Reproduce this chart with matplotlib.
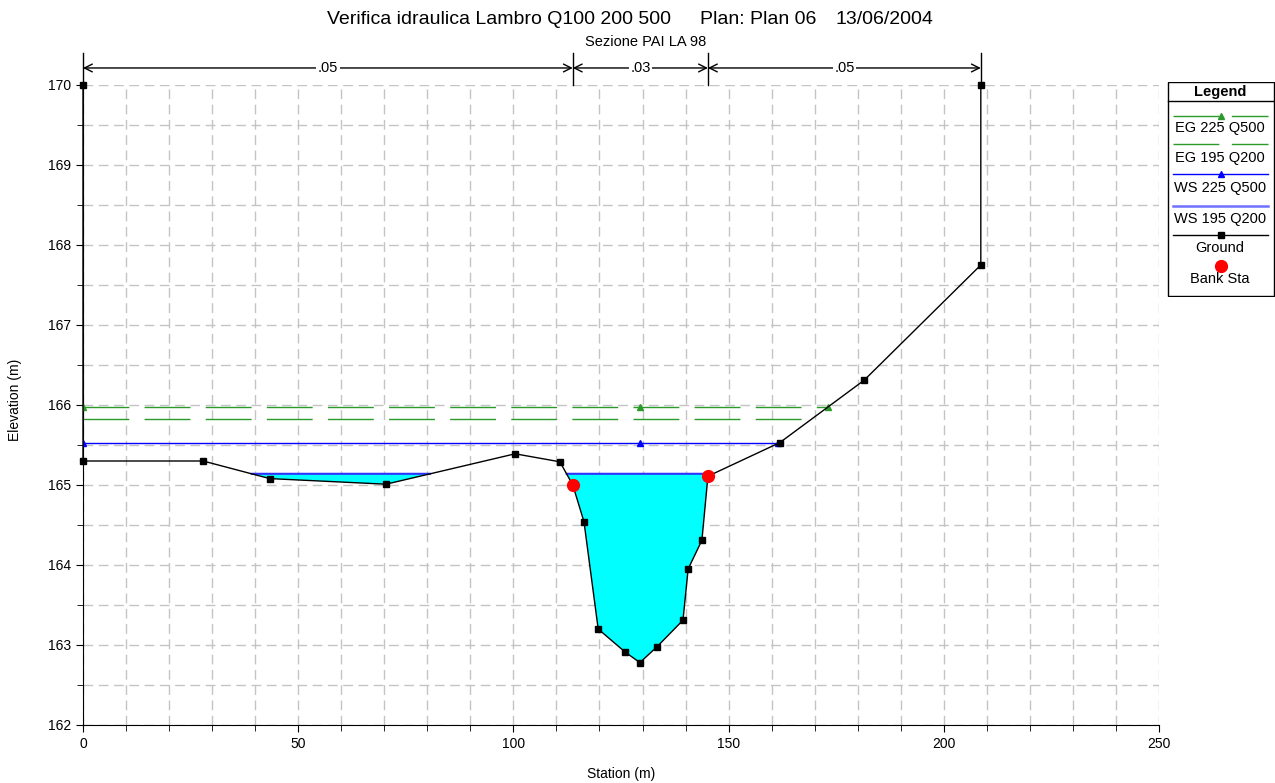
import numpy as np
import matplotlib.pyplot as plt
from matplotlib.ticker import MultipleLocator
from matplotlib.patches import Rectangle

plt.rcParams['font.family'] = ['Liberation Sans', 'DejaVu Sans']

# Cross section geometry (station, elevation)
ground_sta = [0, 0, 27.9, 43.4, 70.4, 100.4, 110.8, 113.8, 116.4, 119.7, 126.0,
              129.4, 133.4, 139.4, 140.6, 143.8, 145.2, 161.9, 181.5, 208.6, 208.6]
ground_elev = [170.0, 165.30, 165.30, 165.08, 165.01, 165.39, 165.29, 165.00, 164.54,
               163.20, 162.91, 162.78, 162.98, 163.31, 163.95, 164.31, 165.11, 165.53,
               166.31, 167.75, 170.0]

bank_sta = [113.8, 145.2]
bank_elev = [165.00, 165.11]

# Manning's n zones
n_bounds = [0, 113.8, 145.2, 208.6]
n_values = ['.05', '.03', '.05']

# Water profiles
eg_q500 = 165.98
eg_q200 = 165.82
ws_q500 = 165.52
ws_q200 = 165.14
thalweg_sta = 129.4

title_parts = ['Verifica idraulica Lambro Q100 200 500', 'Plan: Plan 06', '13/06/2004']

sta = np.array(ground_sta)
elev = np.array(ground_elev)

# dense ground profile (interior points, without the vertical end walls)
xd = np.linspace(sta[1], sta[-2], 6000)
gd = np.interp(xd, sta[1:-1], elev[1:-1])

fig = plt.figure(figsize=(12.75, 7.83), dpi=100)
ax = fig.add_axes([83 / 1275, 1 - 725 / 783, 1076 / 1275, 640 / 783])

ax.set_xlim(0, 250)
ax.set_ylim(162, 170)
ax.xaxis.set_major_locator(MultipleLocator(50))
ax.xaxis.set_minor_locator(MultipleLocator(10))
ax.yaxis.set_major_locator(MultipleLocator(1))
ax.yaxis.set_minor_locator(MultipleLocator(0.5))
ax.grid(which='both', color='#c4c4c4', linestyle=(0, (7, 4)), linewidth=1, zorder=0)
ax.set_axisbelow(True)
for s in ['top', 'right']:
    ax.spines[s].set_visible(False)
ax.tick_params(which='major', direction='out', length=5, labelsize=10)
ax.tick_params(which='minor', direction='out', length=4)

# wetted area of the lower profile
wet = gd < ws_q200
ax.fill_between(xd, gd, ws_q200, where=wet, color='#00ffff', linewidth=0, zorder=2)
ax.plot(xd, np.where(wet, ws_q200, np.nan), color='#3030ff', linewidth=1.5, zorder=3)


def right_edge(level):
    return xd[gd < level].max()


# energy grade lines
green = '#2a9a2a'
x_end = right_edge(eg_q500)
ax.plot([0, x_end], [eg_q500, eg_q500], color=green, linewidth=1,
        linestyle=(0, (33, 11)), zorder=3)
ax.plot([0, thalweg_sta, x_end], [eg_q500] * 3, linestyle='none', marker='^',
        markersize=4.5, color=green, zorder=4)
x_end = right_edge(eg_q200)
ax.plot([0, x_end], [eg_q200, eg_q200], color=green, linewidth=1,
        linestyle=(0, (33, 11)), zorder=3)

# upper water surface
x_end = right_edge(ws_q500)
ax.plot([0, x_end], [ws_q500, ws_q500], color='#0000ff', linewidth=1, zorder=3)
ax.plot([0, thalweg_sta, x_end], [ws_q500] * 3, linestyle='none', marker='^',
        markersize=4.5, color='#0000ff', zorder=4)

# ground and bank stations
ax.plot(sta, elev, color='black', linewidth=1, marker='s', markersize=4.5, zorder=5,
        clip_on=False)
ax.plot(bank_sta, bank_elev, linestyle='none', marker='o', markersize=8.5,
        color='#ff0000', zorder=6)

# Manning's n zones above the plot
tr = ax.get_xaxis_transform()
for b in n_bounds:
    ax.plot([b, b], [1.0, 1.05], color='black', linewidth=1, transform=tr, clip_on=False)
for i, n in enumerate(n_values):
    ax.annotate('', xy=(n_bounds[i + 1], 1.0266), xytext=(n_bounds[i], 1.0266),
                xycoords=tr, textcoords=tr,
                arrowprops=dict(arrowstyle='<->', lw=1, shrinkA=0, shrinkB=0,
                                mutation_scale=14))
    ax.text((n_bounds[i] + n_bounds[i + 1]) / 2, 1.0266, n, transform=tr,
            ha='center', va='center', fontsize=10.5,
            bbox=dict(facecolor='white', edgecolor='none', pad=1))

fig.text(621 / 1275, 1 - 774 / 783, 'Station (m)', ha='center', va='center', fontsize=10)
fig.text(15 / 1275, 1 - 400 / 783, 'Elevation (m)', ha='center', va='center',
         rotation=90, fontsize=10)

# title line, three fields
for part, xc in zip(title_parts, [499, 758, 884.5]):
    fig.text(xc / 1275, 1 - 19 / 783, part, ha='center', va='center', fontsize=14)
fig.text(646 / 1275, 1 - 42 / 783, 'Sezione PAI LA 98', ha='center', va='center',
         fontsize=10.5)

# legend panel (pixel coordinates)
lg = fig.add_axes([1167 / 1275, 1 - 297 / 783, 108 / 1275, 215 / 783])
lg.set_xlim(1167, 1275)
lg.set_ylim(297, 82)
lg.axis('off')
lg.add_patch(Rectangle((1167.5, 82.5), 106, 214, fill=False, edgecolor='black', lw=1))
lg.plot([1167.5, 1274], [101, 101], color='black', lw=1)
lg.text(1220, 92.5, 'Legend', ha='center', va='center', fontsize=10.5, fontweight='bold')

fs = 10.5
lx = [1173, 1268]
lg.plot(lx, [115.7] * 2, color=green, lw=1, linestyle=(0, (33, 9)))
lg.plot([1221], [115.7], marker='^', markersize=4.5, color=green)
lg.text(1220, 128.5, 'EG 225 Q500', ha='center', va='center', fontsize=fs)
lg.plot(lx, [144.3] * 2, color=green, lw=1, linestyle=(0, (33, 9)))
lg.text(1220, 158, 'EG 195 Q200', ha='center', va='center', fontsize=fs)
lg.plot(lx, [174.3] * 2, color='#0000ff', lw=1)
lg.plot([1221], [174.3], marker='^', markersize=4.5, color='#0000ff')
lg.text(1220, 188.5, 'WS 225 Q500', ha='center', va='center', fontsize=fs)
lg.plot(lx, [205.7] * 2, color='#7070ff', lw=1.8)
lg.text(1220, 219.5, 'WS 195 Q200', ha='center', va='center', fontsize=fs)
lg.plot(lx, [235] * 2, color='black', lw=1)
lg.plot([1221], [235], marker='s', markersize=4.5, color='black')
lg.text(1220, 248, 'Ground', ha='center', va='center', fontsize=fs)
lg.plot([1221], [265.7], marker='o', markersize=8.5, color='#ff0000')
lg.text(1220, 279.5, 'Bank Sta', ha='center', va='center', fontsize=fs)

fig.savefig('out.png', dpi=100)
